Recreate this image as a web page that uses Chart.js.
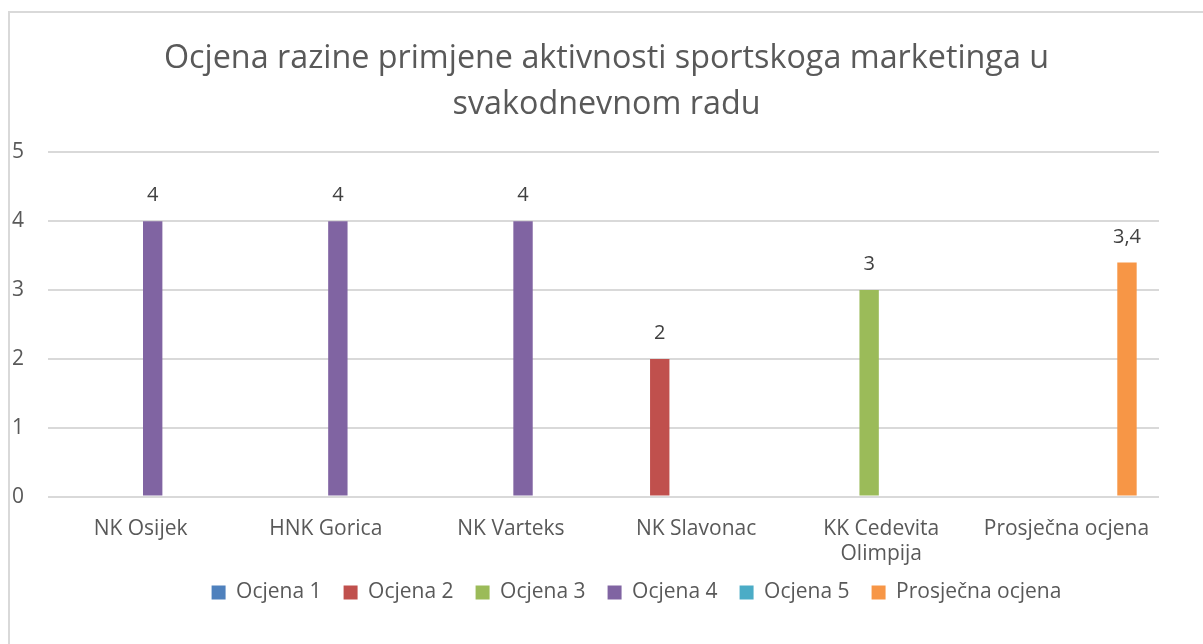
<!DOCTYPE html>
<html>
<head>
<meta charset="utf-8">
<script src="https://cdn.jsdelivr.net/npm/chart.js@4/dist/chart.umd.min.js"></script>
<style>
  body { margin: 0; background: #fff; }
  #frame { position: absolute; left: 8px; top: 11px; width: 1195px; height: 633px;
           border-left: 2px solid #d9d9d9; border-top: 2px solid #d9d9d9; pointer-events: none; }
  canvas { position: absolute; left: 0; top: 0; }
</style>
</head>
<body>
<canvas id="ocjene" width="1203" height="644"></canvas>
<div id="frame"></div>
<script>
// categories and series
var categories = ['NK Osijek', 'HNK Gorica', 'NK Varteks', 'NK Slavonac', ['KK Cedevita', 'Olimpija'], 'Prosječna ocjena'];
var ocjena1 = [null, null, null, null, null, null];
var ocjena2 = [null, null, null, 2, null, null];
var ocjena3 = [null, null, null, null, 3, null];
var ocjena4 = [4, 4, 4, null, null, null];
var ocjena5 = [null, null, null, null, null, null];
var prosjecna = [null, null, null, null, null, 3.4];
var yTicks = [0, 1, 2, 3, 4, 5];

var FONT = "'Open Sans', 'Noto Sans', sans-serif";

// values above the bars, comma as decimal separator
const valueLabels = {
  id: 'valueLabels',
  afterDatasetsDraw(chart) {
    const ctx = chart.ctx;
    ctx.save();
    ctx.font = '20px ' + FONT;
    ctx.fillStyle = '#404040';
    ctx.textAlign = 'center';
    ctx.textBaseline = 'alphabetic';
    chart.data.datasets.forEach((ds, i) => {
      chart.getDatasetMeta(i).data.forEach((bar, j) => {
        const v = ds.data[j];
        if (v === null || v === undefined) return;
        ctx.fillText(String(v).replace('.', ','), bar.x, bar.y - 20);
      });
    });
    ctx.restore();
  }
};

// excel centres title and legend a bit to the right, legend sits tighter under the axis
const nudge = {
  id: 'nudge',
  afterLayout(chart) {
    const t = chart.titleBlock, l = chart.legend;
    t.left += 21; t.right += 21;
    l.left += 51; l.right += 51;
    l.top -= 19; l.bottom -= 19;
  }
};

function bar(label, data, color) {
  return { label: label, data: data, backgroundColor: color, borderWidth: 0 };
}

new Chart('ocjene', {
  type: 'bar',
  data: {
    labels: categories,
    datasets: [
      bar('Ocjena 1', ocjena1, '#4f81bd'),
      bar('Ocjena 2', ocjena2, '#c0504d'),
      bar('Ocjena 3', ocjena3, '#9bbb59'),
      bar('Ocjena 4', ocjena4, '#8064a2'),
      bar('Ocjena 5', ocjena5, '#4bacc6'),
      bar('Prosječna ocjena', prosjecna, '#f79646'),
    ]
  },
  options: {
    responsive: false,
    animation: false,
    devicePixelRatio: 1,
    categoryPercentage: 0.785,
    barPercentage: 0.8,
    layout: { padding: { top: 36, left: 12, right: 44, bottom: 12 } },
    plugins: {
      tooltip: { enabled: false },
      title: {
        display: true,
        text: ['Ocjena razine primjene aktivnosti sportskoga marketinga u', 'svakodnevnom radu'],
        color: '#595959',
        font: { family: FONT, size: 32.3, weight: 'normal', lineHeight: 1.43 },
        padding: { top: 0, bottom: 24 }
      },
      legend: {
        position: 'bottom',
        labels: {
          color: '#595959',
          font: { family: FONT, size: 21 },
          boxWidth: 14,
          boxHeight: 14,
          padding: 22
        }
      }
    },
    scales: {
      x: {
        grid: { display: false },
        border: { display: false },
        ticks: {
          color: '#595959',
          font: { family: FONT, size: 21, lineHeight: 1.2 },
          padding: 12,
          maxRotation: 0,
          autoSkip: false
        }
      },
      y: {
        min: 0,
        max: 5,
        afterBuildTicks: function(axis) {
          axis.ticks = yTicks.map(function(v) { return { value: v }; });
        },
        afterFit: function(scale) { scale.width = 36; },
        grid: { color: '#d9d9d9', lineWidth: 2, drawTicks: false },
        border: { display: false },
        ticks: {
          color: '#595959',
          font: { family: FONT, size: 21 },
          padding: 24
        }
      }
    }
  },
  plugins: [valueLabels, nudge]
});
</script>
</body>
</html>
